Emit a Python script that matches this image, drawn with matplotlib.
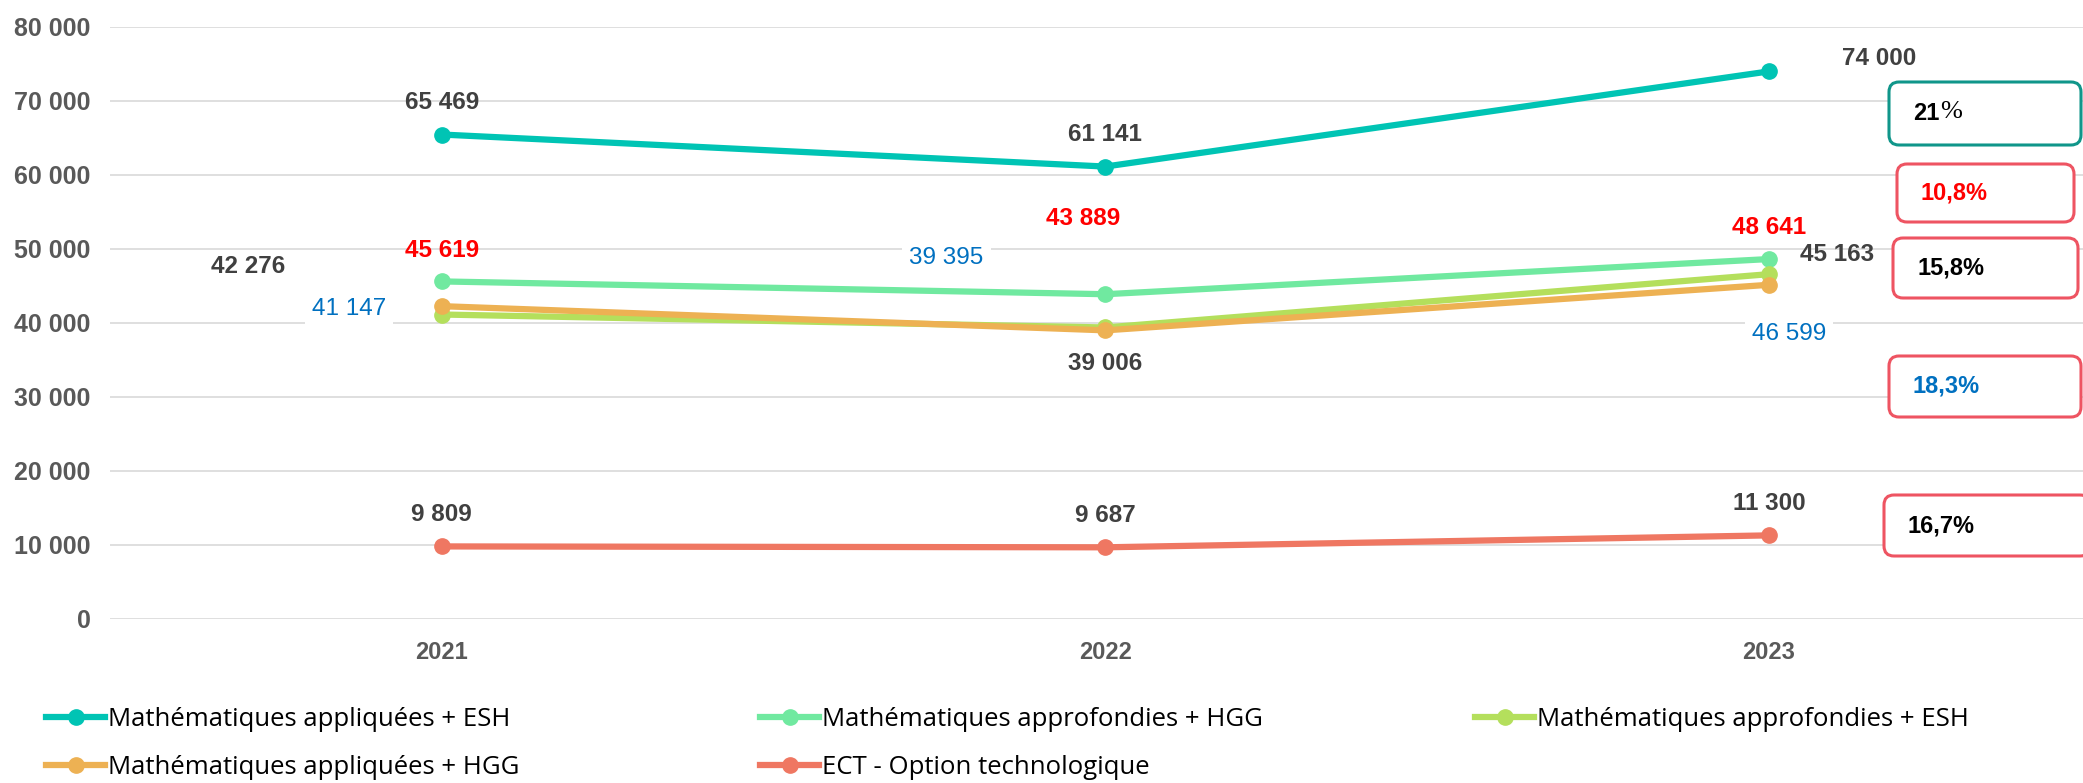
import matplotlib
matplotlib.use("Agg")
import matplotlib.pyplot as plt
from matplotlib.patches import FancyBboxPatch
from matplotlib.lines import Line2D

# 1. Data
years = ["2021", "2022", "2023"]
series_names = [
    "Mathématiques appliquées + ESH",
    "Mathématiques approfondies + HGG",
    "Mathématiques approfondies + ESH",
    "Mathématiques appliquées + HGG",
    "ECT - Option technologique",
]
appl_esh = [65469, 61141, 74000]
appr_hgg = [45619, 43889, 48641]
appr_esh = [41147, 39395, 46599]
appl_hgg = [42276, 39006, 45163]
ect = [9809, 9687, 11300]
growth_labels = ["21%", "10,8%", "15,8%", "18,3%", "16,7%"]

# 2. Styles
W, H, DPI = 2083, 783, 100
line_colors = ["#00C4B4", "#70E9A0", "#B4DF5C", "#EDB153", "#EF7762"]
label_colors = ["#404040", "#FF0000", "#0070C0", "#404040", "#404040"]
label_weights = ["bold", "bold", "normal", "bold", "bold"]
label_white_bg = [False, False, True, False, False]
# label offsets in pixels (dx, dy up) per series and year
label_offsets = [
    [(0, 32), (0, 32), (110, 13)],
    [(0, 31), (-22, 76), (0, 32)],
    [(-93, 6), (-159, 69), (20, -60)],
    [(-194, 40), (0, -33), (68, 30)],
    [(0, 32), (0, 32), (0, 32)],
]
growth_text_colors = ["#000000", "#FF0000", "#000000", "#0070C0", "#000000"]
growth_edge_colors = ["#10968A", "#EE5462", "#EE5462", "#EE5462", "#EE5462"]
# boxes: x0, x1, y0, y1 in pixels from top-left
growth_boxes = [
    (1889, 2081, 82, 145),
    (1897, 2074, 164, 222),
    (1893, 2078, 238, 298),
    (1889, 2081, 356, 417),
    (1884, 2090, 495, 556),
]

plt.rcParams["font.family"] = ["Liberation Sans", "DejaVu Sans"]

fig = plt.figure(figsize=(W / DPI, H / DPI), dpi=DPI)
left_px, bottom_px, top_px = 110, 619, 27
ax = fig.add_axes([left_px / W, 1 - bottom_px / H, 1 - left_px / W, (bottom_px - top_px) / H])

x = list(range(len(years)))
all_series = [appl_esh, appr_hgg, appr_esh, appl_hgg, ect]
for i, vals in enumerate(all_series):
    ax.plot(x, vals, color=line_colors[i], lw=4.5, marker="o", ms=11,
            solid_capstyle="round", label=series_names[i], zorder=3 + i)
    for j, v in enumerate(vals):
        dx, dy = label_offsets[i][j]
        txt = f"{v:,}".replace(",", " ")
        bbox = dict(facecolor="white", edgecolor="none", pad=5) if label_white_bg[i] else None
        ax.annotate(txt, (j, v), xytext=(dx * 0.72, dy * 0.72), textcoords="offset points",
                    ha="center", va="center", fontsize=17.5, color=label_colors[i],
                    fontweight=label_weights[i], bbox=bbox, zorder=2)

ax.set_xlim(-0.5, (W - 442) / 663.5)
ax.set_ylim(0, 80000)
ax.set_yticks(range(0, 80001, 10000))
ax.set_yticklabels([f"{t:,}".replace(",", " ") for t in range(0, 80001, 10000)])
ax.set_xticks(x)
ax.set_xticklabels(years)
ax.tick_params(length=0, labelcolor="#595959")
ax.tick_params(axis="y", pad=14, labelsize=18)
ax.tick_params(axis="x", pad=16, labelsize=17)
for lab in ax.get_xticklabels() + ax.get_yticklabels():
    lab.set_fontweight("bold")
for s in ax.spines.values():
    s.set_visible(False)
ax.grid(axis="y", color="#D9D9D9", lw=1.2)
ax.set_axisbelow(True)

# 3. Growth boxes
for k, lab in enumerate(growth_labels):
    x0, x1, y0, y1 = growth_boxes[k]
    box = FancyBboxPatch((x0 / DPI, (H - y1) / DPI), (x1 - x0) / DPI, (y1 - y0) / DPI,
                         boxstyle="round,pad=0,rounding_size=0.1",
                         transform=fig.dpi_scale_trans, facecolor="white",
                         edgecolor=growth_edge_colors[k], lw=2.2, zorder=10)
    fig.patches.append(box)
    tx, ty = (x0 + 24) / DPI, (H - (y0 + y1) / 2) / DPI
    if lab == "21%":
        fig.text(tx, ty, "21", transform=fig.dpi_scale_trans, fontsize=17,
                 fontweight="bold", color=growth_text_colors[k], va="center", ha="left", zorder=11)
        fig.text(tx + 0.27, ty + 0.01, "%", transform=fig.dpi_scale_trans, fontsize=19,
                 family="Liberation Serif", color=growth_text_colors[k], va="center", ha="left", zorder=11)
    else:
        fig.text(tx, ty, lab, transform=fig.dpi_scale_trans, fontsize=17, fontweight="bold",
                 color=growth_text_colors[k], va="center", ha="left", zorder=11)

# 4. Legend, one per column
legend_cols = [[0, 3], [1, 4], [2]]
col_x = [46, 760, 1475]
for c, idx in enumerate(legend_cols):
    hs = [Line2D([], [], color=line_colors[i], lw=4.5, marker="o", ms=11) for i in idx]
    fig.legend(hs, [series_names[i] for i in idx], loc="upper left",
               bbox_to_anchor=(col_x[c] / W, 1 - 707 / H), frameon=False,
               prop={"family": "Open Sans", "size": 18.5}, handlelength=2.3,
               handletextpad=0.1, borderpad=0, borderaxespad=0, labelspacing=0.9)

fig.savefig("out.png", dpi=DPI)
